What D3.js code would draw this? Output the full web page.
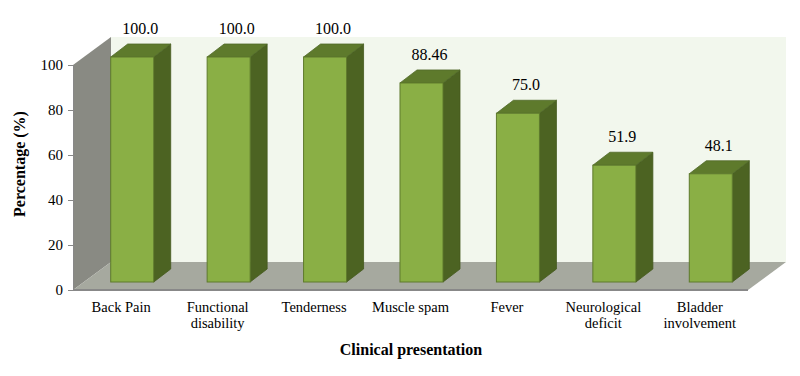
<!DOCTYPE html>
<html><head><meta charset="utf-8">
<script src="https://cdn.jsdelivr.net/npm/d3@7"></script>
<style>body{margin:0;background:#fff}svg{display:block}</style>
</head><body>
<script>
const categories = [["Back Pain"],["Functional","disability"],["Tenderness"],["Muscle spam"],["Fever"],["Neurological","deficit"],["Bladder","involvement"]];
const values = [100.0, 100.0, 100.0, 88.46, 75.0, 51.9, 48.1];
const valueLabels = ["100.0","100.0","100.0","88.46","75.0","51.9","48.1"];
const yTicks = [0,20,40,60,80,100];

const W = 800, H = 376;
const svg = d3.select("body").append("svg").attr("width", W).attr("height", H);
const font = "'Liberation Serif','Times New Roman',serif";

const x0 = 73, x1 = 748, yBase = 290, yTop = 65;
const depthX = 38, depthY = -28;
const y = d3.scaleLinear().domain([0,100]).range([yBase, yTop]);
const x = d3.scaleBand().domain(d3.range(categories.length)).range([x0, x1]).paddingInner(0.554).paddingOuter(0.277);

// back wall
svg.append("rect").attr("x", x0+depthX).attr("y", yTop+depthY).attr("width", x1-x0).attr("height", yBase-yTop).attr("fill","#F2F7ED");
// left wall
svg.append("path").attr("d", `M${x0},${yBase}L${x0},${yTop}L${x0+depthX},${yTop+depthY}L${x0+depthX},${yBase+depthY}Z`).attr("fill","#898A83");
// floor
svg.append("path").attr("d", `M${x0},${yBase}L${x1},${yBase}L${x1+depthX},${yBase+depthY}L${x0+depthX},${yBase+depthY}Z`).attr("fill","#A6A99F");
svg.append("line").attr("x1",x0).attr("x2",x1).attr("y1",yBase).attr("y2",yBase).attr("stroke","#888").attr("stroke-width",2);

// y axis
const yAxis = d3.axisLeft(y).tickValues(yTicks).tickSize(5).tickPadding(5).tickFormat(d3.format("d"));
const ya = svg.append("g").attr("transform", `translate(${x0},0)`).call(yAxis);
ya.select(".domain").attr("stroke","#888");
ya.selectAll(".tick line").attr("stroke","#888");
ya.selectAll("text").attr("font-family", font).attr("font-size", 15).attr("fill","#000");

// bars
const bOffX = 11, bOffY = -8, bdx = 17, bdy = -13;
const yb = v => y(v) + bOffY;
const g = svg.append("g");
categories.forEach((c, i) => {
  const v = values[i];
  const xl = x(i) + bOffX, w = x.bandwidth();
  const xr = xl + w, yt = yb(v), ybot = yb(0);
  // side
  g.append("path").attr("d", `M${xr},${ybot}L${xr},${yt}L${xr+bdx},${yt+bdy}L${xr+bdx},${ybot+bdy}Z`).attr("fill","#4C6322").attr("stroke","#44591d").attr("stroke-width",0.8);
  // top
  g.append("path").attr("d", `M${xl},${yt}L${xr},${yt}L${xr+bdx},${yt+bdy}L${xl+bdx},${yt+bdy}Z`).attr("fill","#5E7A2C").attr("stroke","#51692a").attr("stroke-width",0.8);
  // front
  g.append("rect").attr("x", xl).attr("y", yt).attr("width", w).attr("height", ybot-yt).attr("fill","#8AAF45").attr("stroke","#5E7A2C").attr("stroke-width",1);
  // value label
  svg.append("text").attr("x", xl + w/2 + 8).attr("y", yt - 23).attr("text-anchor","middle")
    .attr("font-family", font).attr("font-size", 16).attr("fill","#000").text(valueLabels[i]);
  // category label
  const t = svg.append("text").attr("text-anchor","middle").attr("font-family", font).attr("font-size", 14.5).attr("fill","#000");
  c.forEach((line, k) => {
    t.append("tspan").attr("x", x(i) + w/2).attr("y", 312 + k*16).text(line);
  });
});

// axis titles
svg.append("text").attr("x", 411).attr("y", 355).attr("text-anchor","middle").attr("font-family", font)
  .attr("font-size", 16).attr("font-weight","bold").text("Clinical presentation");
svg.append("text").attr("transform","translate(25,164) rotate(-90)").attr("text-anchor","middle").attr("font-family", font)
  .attr("font-size", 16).attr("font-weight","bold").text("Percentage (%)");
</script>
</body></html>
